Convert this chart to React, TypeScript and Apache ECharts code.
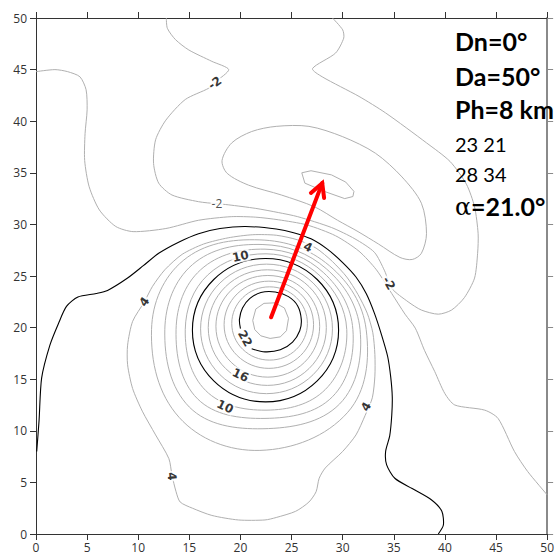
import React, { useEffect, useRef } from "react";
import * as echarts from "echarts";

const GRAY = "#b0b0b0";
const BLACK = "#000000";

// ---- contour lines, [x, y] in data units ----
const PEAK_24 = [[21.2,20.7],[21.5,21.8],[22.3,22.35],[23.4,22.4],[24.3,21.9],[24.7,20.9],[24.5,19.7],[23.9,19.1],[22.9,18.95],[22.0,19.2],[21.4,19.8]];
const LINE_22 = [[21.1,17.95],[22.4,17.65],[23.9,17.85],[25.1,18.6],[25.8,19.7],[25.95,20.8],[25.6,22.1],[24.7,23.0],[23.4,23.45],[22.0,23.4],[20.9,22.8],[20.2,21.9],[19.9,20.8],[20.0,19.9]];
const LINE_20 = [[26.55,20.4],[25.47,22.91],[22.85,23.95],[20.23,22.91],[19.15,20.4],[20.23,17.89],[22.85,16.85],[25.47,17.89]];
const LINE_18 = [[27.15,20.28],[25.88,23.27],[22.78,24.5],[19.68,23.27],[18.4,20.28],[19.68,17.29],[22.78,16.05],[25.88,17.29]];
const LINE_16 = [[27.75,20.13],[26.27,23.62],[22.68,25.05],[19.09,23.62],[17.6,20.13],[19.09,16.64],[22.68,15.2],[26.27,16.64]];
const LINE_14 = [[28.4,20.0],[26.72,23.96],[22.63,25.6],[18.54,23.96],[16.85,20.0],[18.54,16.04],[22.63,14.4],[26.72,16.04]];
const LINE_12 = [[29.0,19.88],[27.11,24.32],[22.55,26.15],[17.99,24.32],[16.1,19.88],[17.99,15.44],[22.55,13.6],[27.11,15.44]];
const LINE_10 = [[29.6,19.75],[27.51,24.66],[22.45,26.7],[17.39,24.66],[15.3,19.75],[17.39,14.84],[22.45,12.8],[27.51,14.84]];
const LINE_8 = [[30.4,19.8],[27.8,25.0],[22.5,27.15],[16.8,25.1],[14.6,19.8],[16.6,13.9],[22.5,12.0],[28.3,14.0]];
const LINE_6 = [[31.0,19.8],[28.1,25.35],[22.4,27.6],[16.1,25.6],[13.7,19.8],[15.8,13.1],[22.4,11.2],[29.0,13.3]];
const LINE_4 = [[31.7,19.8],[28.4,25.7],[22.2,28.05],[15.3,26.1],[12.6,19.8],[15.0,12.3],[22.2,10.2],[29.7,12.6]];
const LINE_2 = [[32.3,19.8],[28.7,26.0],[21.9,28.5],[14.4,26.5],[11.3,19.8],[14.0,11.3],[21.9,8.1],[30.5,11.8]];
const LINE_OUT = [[10.6,22.5],[11.4,24.0],[12.6,25.6],[14.3,27.1],[16.4,28.1],[18.8,28.7],[21.2,29.0],[23.5,28.95],[25.6,28.5],[27.4,27.7],[29.0,26.4],[30.4,24.9],[31.5,23.2],[32.4,21.4],[32.95,19.5],[33.15,17.4],[33.15,15.3],[32.9,13.2],[32.2,11.5],[31.3,9.6],[30.0,8.0],[28.3,6.4],[27.7,5.4],[27.4,4.1],[26.7,3.1],[25.4,2.2],[23.5,1.6],[22.4,1.36],[19.8,1.36],[17.2,1.8],[15.3,2.5],[14.1,3.1],[13.7,4.1],[13.3,5.7],[13.0,7.3],[11.7,9.6],[10.4,11.9],[9.45,14.1],[8.96,16.4],[8.96,18.3],[9.45,20.6]];
const LINE_BLACK_OUTER = [[0.07,8.0],[0.3,11.0],[0.55,15.1],[1.36,18.3],[2.2,20.4],[2.98,22.05],[4.1,22.96],[5.9,23.3],[7.0,23.6],[8.96,24.8],[10.5,26.0],[12.0,27.2],[14.0,28.3],[15.9,29.1],[18.0,29.6],[20.5,29.8],[23.5,29.55],[25.2,29.2],[26.9,28.6],[28.5,27.6],[30.0,26.3],[31.3,24.9],[32.3,23.3],[33.1,21.4],[33.8,19.3],[34.4,17.2],[34.7,15.2],[34.85,13.3],[34.8,11.5],[34.6,9.5],[34.2,8.0],[34.3,6.7],[35.1,5.4],[36.8,4.4],[38.7,3.3],[39.7,2.2],[39.85,0.87],[39.35,0]];
const LINE_ZERO = [[0,44.8],[1.85,45.0],[3.1,44.8],[4.3,44.3],[4.9,43.05],[5.0,41.1],[4.8,38.8],[4.76,36.2],[5.2,33.65],[6.2,31.4],[7.8,29.8],[9.5,29.3],[12.7,29.6],[15.9,30.4],[19.1,30.75],[21.5,30.7],[23.7,30.45],[26.5,29.95],[29.3,28.9],[31.6,27.4],[33.3,25.6],[34.8,23.3],[36.1,21.3],[37.1,19.95],[38.0,17.8],[39.0,15.75],[40.0,13.6],[40.97,12.5],[43.9,12.0],[45.2,11.2],[46.8,8.0],[48.1,6.05],[50,3.8]];
const LINE_M2 = [[12.75,50],[12.85,49.0],[13.65,47.9],[14.95,46.9],[17.2,45.8],[18.85,45.0],[17.55,43.8],[16.9,43.2],[14.6,42.1],[12.7,40.1],[11.7,38.2],[11.5,35.9],[12.0,34.0],[13.3,32.85],[15.9,32.2],[17.7,32.0],[18.8,31.9],[21.5,31.55],[23.7,31.15],[25.6,30.75],[28.9,29.7],[31.2,28.6],[33.1,27.3],[34.1,25.5],[34.8,23.8],[36.4,22.5],[37.7,21.7],[39.35,21.3],[40.65,21.7],[41.9,22.9],[42.9,24.8],[43.2,27.2],[43.25,29.1],[42.9,31.7],[42.1,33.9],[40.5,36.1],[38.2,37.9],[34.2,40.8],[31.6,42.4],[28.0,44.3],[27.05,45.1],[29.3,46.6],[30.1,48.05],[30.0,48.85],[29.0,50]];
const LINE_M4 = [[18.2,36.2],[19.15,37.9],[21.1,39.0],[23.5,39.5],[26.7,39.5],[30.0,38.5],[33.2,36.9],[35.8,34.6],[37.7,32.05],[38.2,29.1],[37.7,27.2],[36.8,26.6],[35.6,26.8],[33.5,28.1],[31.5,29.3],[29.5,30.4],[27.25,31.7],[24.0,32.85],[20.8,33.8],[18.7,34.95]];
const LINE_M6 = [[26.0,35.0],[26.3,34.0],[28.2,33.2],[30.2,32.5],[31.0,32.7],[31.1,33.2],[30.3,34.1],[28.9,34.8],[26.9,35.2]];

// contour labels: text, position, rotation (deg, anticlockwise), bold
const LABEL_TEXTS = ["-2", "-2", "-2", "10", "4", "22", "16", "10", "4", "4", "4"];
const LABEL_POS = [[17.7,32.0],[17.5,43.7],[34.5,24.3],[20.0,26.9],[26.6,27.8],[20.45,18.95],[20.0,15.4],[18.5,12.35],[10.6,22.5],[13.3,5.6],[32.3,12.35]];
const LABEL_ROT = [0, 35, -60, 12, -25, -60, -25, -25, 55, -85, 60];
const LABEL_BOLD = [false, true, true, true, true, true, true, true, true, true, true];

// arrow from peak (23,21) to minimum (28,34)
const ARROW = [23, 21, 28, 34];

// annotation lines
const INFO_BOLD = ["Dn=0°", "Da=50°", "Ph=8 km"];
const INFO_PLAIN = ["23 21", "28 34"];
const ALPHA_VALUE = "=21.0°";

const CONTOURS = [
  { pts: LINE_M2, color: GRAY, closed: false, smooth: 0.25, width: 1 },
  { pts: LINE_M4, color: GRAY, closed: true, smooth: 0.3, width: 1 },
  { pts: LINE_M6, color: GRAY, closed: true, smooth: 0, width: 1 },
  { pts: LINE_ZERO, color: GRAY, closed: false, smooth: 0.25, width: 1 },
  { pts: LINE_BLACK_OUTER, color: BLACK, closed: false, smooth: 0.25, width: 1.1 },
  { pts: LINE_OUT, color: GRAY, closed: true, smooth: 0.25, width: 1 },
  { pts: LINE_2, color: GRAY, closed: true, smooth: 0.38, width: 1 },
  { pts: LINE_4, color: GRAY, closed: true, smooth: 0.38, width: 1 },
  { pts: LINE_6, color: GRAY, closed: true, smooth: 0.38, width: 1 },
  { pts: LINE_8, color: GRAY, closed: true, smooth: 0.38, width: 1 },
  { pts: LINE_10, color: BLACK, closed: true, smooth: 0.38, width: 1.1 },
  { pts: LINE_12, color: GRAY, closed: true, smooth: 0.38, width: 1 },
  { pts: LINE_14, color: GRAY, closed: true, smooth: 0.38, width: 1 },
  { pts: LINE_16, color: GRAY, closed: true, smooth: 0.38, width: 1 },
  { pts: LINE_18, color: GRAY, closed: true, smooth: 0.38, width: 1 },
  { pts: LINE_20, color: GRAY, closed: true, smooth: 0.38, width: 1 },
  { pts: LINE_22, color: BLACK, closed: false, smooth: 0.3, width: 1.1 },
  { pts: PEAK_24, color: GRAY, closed: true, smooth: 0, width: 1 },
];

const AX = "#333333";

function axis(kind: "x" | "y", position: string, showLabel: boolean, color: string, width: number) {
  return {
    type: "value",
    min: 0,
    max: 50,
    interval: 5,
    position,
    axisLine: { show: true, onZero: false, lineStyle: { color, width } },
    axisTick: { show: true, length: 6, lineStyle: { color, width: 1 } },
    axisLabel: {
      show: showLabel,
      color: "#333",
      fontSize: 12,
      fontFamily: "Open Sans",
      margin: kind === "x" ? 7 : 9,
    },
    splitLine: { show: false },
  };
}

export default function App() {
  const ref = useRef<HTMLDivElement>(null);
  useEffect(() => {
    if (!ref.current) return;
    const chart = echarts.init(ref.current, undefined, { renderer: "svg" });
    const option: any = {
      animation: false,
      backgroundColor: "#fff",
      grid: { left: 36, right: 6, top: 18, bottom: 20, containLabel: false },
      xAxis: [axis("x", "bottom", true, AX, 1), axis("x", "top", false, AX, 1)],
      yAxis: [axis("y", "left", true, AX, 1), axis("y", "right", false, "#8a8a8a", 2)],
      series: [
        {
          type: "custom",
          coordinateSystem: "cartesian2d",
          clip: true,
          silent: true,
          data: CONTOURS.map((c) => [c.pts[0][0], c.pts[0][1]]),
          renderItem: (params: any, api: any) => {
            const c = CONTOURS[params.dataIndex];
            const pts = c.pts.map((p) => api.coord(p));
            return {
              type: c.closed ? "polygon" : "polyline",
              shape: { points: pts, smooth: c.smooth },
              style: { fill: "none", stroke: c.color, lineWidth: c.width },
            };
          },
        },
        {
          type: "scatter",
          silent: true,
          symbolSize: 1,
          itemStyle: { color: "rgba(0,0,0,0)" },
          data: LABEL_POS.map((p, i) => ({
            value: p,
            label: {
              show: true,
              position: "inside",
              formatter: LABEL_TEXTS[i],
              rotate: LABEL_ROT[i],
              color: LABEL_BOLD[i] ? "#000" : "#222",
              fontWeight: LABEL_BOLD[i] ? "bold" : "normal",
              fontSize: 12,
              fontFamily: LABEL_BOLD[i] ? "DejaVu Sans" : "Open Sans",
              backgroundColor: "#fff",
              padding: [0, 1],
            },
          })),
          z: 3,
        },
        {
          type: "custom",
          coordinateSystem: "cartesian2d",
          silent: true,
          z: 4,
          data: [ARROW],
          renderItem: (params: any, api: any) => {
            const p0 = api.coord([api.value(0), api.value(1)]);
            const p1 = api.coord([api.value(2), api.value(3)]);
            const back = Math.atan2(p0[1] - p1[1], p0[0] - p1[0]);
            const L = 15;
            const phi = (28 * Math.PI) / 180;
            const w1 = [p1[0] + L * Math.cos(back + phi), p1[1] + L * Math.sin(back + phi)];
            const w2 = [p1[0] + L * Math.cos(back - phi), p1[1] + L * Math.sin(back - phi)];
            const st = { stroke: "#ff0000", lineWidth: 4, fill: "none", lineCap: "round", lineJoin: "miter" };
            return {
              type: "group",
              children: [
                { type: "line", shape: { x1: p0[0], y1: p0[1], x2: p1[0], y2: p1[1] }, style: st },
                { type: "polyline", shape: { points: [w1, p1, w2] }, style: st },
              ],
            };
          },
        },
      ],
      graphic: [
        ...INFO_BOLD.map((t, i) => ({
          type: "text",
          x: 455,
          y: [41, 76, 109][i],
          z: 10,
          style: { text: t, font: "bold 25px Lato", fill: "#000", verticalAlign: "middle" },
        })),
        ...INFO_PLAIN.map((t, i) => ({
          type: "text",
          x: 455,
          y: [143.5, 173.5][i],
          z: 10,
          style: { text: t, font: "20px Lato", fill: "#000", verticalAlign: "middle" },
        })),
        {
          type: "text",
          x: 455,
          y: 207,
          z: 10,
          style: { text: "α", font: "24px 'DejaVu Serif'", fill: "#000", verticalAlign: "middle" },
        },
        {
          type: "text",
          x: 471,
          y: 206,
          z: 10,
          style: { text: ALPHA_VALUE, font: "bold 25px Lato", fill: "#000", verticalAlign: "middle" },
        },
      ],
    };
    chart.setOption(option);
    return () => chart.dispose();
  }, []);
  return (
    <div
      ref={ref}
      style={{ position: "fixed", left: 0, top: 0, width: 557, height: 554, background: "#fff" }}
    />
  );
}
